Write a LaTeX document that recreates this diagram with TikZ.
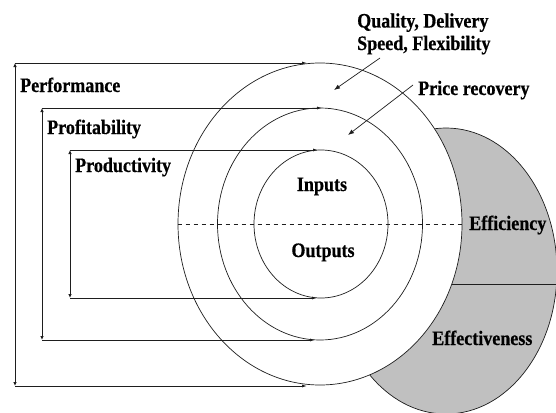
\documentclass[tikz,border=0pt]{standalone}
\usepackage{fontspec}
\setmainfont{Liberation Serif}[FakeStretch=0.88, BoldFeatures={FakeBold=0.6}]
\usetikzlibrary{arrows.meta,shapes.geometric}
\definecolor{fillgray}{RGB}{192,192,192}
\definecolor{linec}{RGB}{30,30,30}
\begin{document}
\begin{tikzpicture}[x=1pt,y=-1pt,
  lbl/.style={font=\fontsize{20.5}{22.5}\selectfont\bfseries, inner sep=0pt, text=black},
  ring/.style={ellipse, draw=linec, line width=0.7pt, inner sep=0pt},
  brk/.style={draw=linec, line width=0.8pt},
  tipr/.style={-{Latex[length=5pt,width=3pt]}},
  tipv/.style={{Latex[length=4pt,width=3.5pt]}-{Latex[length=4pt,width=3.5pt]}},
  ptr/.style={draw=linec, line width=0.7pt, -{Latex[length=6pt,width=4.5pt]}}
]
\useasboundingbox (0,0) rectangle (556,412);
% gray region (Efficiency / Effectiveness)
\begin{scope}
  \clip (0,0) rectangle (556,412);
  \node[ring, fill=fillgray, minimum width=222pt, minimum height=286pt] (gray) at (446,271) {};
\end{scope}
\coordinate (splitL) at (420,284);
\coordinate (splitR) at (556,284);
\draw[brk] (splitL) -- (splitR);
% rings
\node[ring, fill=white, minimum width=284pt, minimum height=322pt] (outer) at (320,224) {};
\node[ring, minimum width=205pt, minimum height=232pt] (middle) at (320,224) {};
\node[ring, minimum width=134pt, minimum height=148pt] (inner) at (321,224) {};
\draw[linec, line width=0.7pt, dash pattern=on 4pt off 4pt] (outer.west) -- (outer.east);
% brackets
\coordinate (pfTL) at (15,63);  \coordinate (pfTR) at (307,63);
\coordinate (pfBL) at (15,386); \coordinate (pfBR) at (307,386);
\coordinate (prTL) at (42,108);  \coordinate (prTR) at (322,108);
\coordinate (prBL) at (42,340);  \coordinate (prBR) at (315,340);
\coordinate (pdTL) at (70,150);  \coordinate (pdTR) at (318,150);
\coordinate (pdBL) at (70,298);  \coordinate (pdBR) at (317,298);
\draw[brk, tipv] (pfTL) -- (pfBL);
\draw[brk, tipr] (pfTL) -- (pfTR);
\draw[brk, tipr] (pfBL) -- (pfBR);
\draw[brk, tipv] (prTL) -- (prBL);
\draw[brk, tipr] (prTL) -- (prTR);
\draw[brk, tipr] (prBL) -- (prBR);
\draw[brk, tipv] (pdTL) -- (pdBL);
\draw[brk, tipr] (pdTL) -- (pdTR);
\draw[brk, tipr] (pdBL) -- (pdBR);
% labels
\node[lbl, anchor=base west] (perf) at (20,92) {Performance};
\node[lbl, anchor=base west] (prof) at (47,134) {Profitability};
\node[lbl, anchor=base west] (prod) at (75,172) {Productivity};
\node[lbl, anchor=base] (inp) at (322,191) {Inputs};
\node[lbl, anchor=base] (outp) at (323,257) {Outputs};
\node[lbl, anchor=base west] (effi) at (469,230) {Efficiency};
\node[lbl, anchor=base west] (effe) at (432,345) {Effectiveness};
\node[lbl, anchor=base west, align=left] (qual) at (357,50) {Quality, Delivery\\Speed, Flexibility};
\node[lbl, anchor=base west] (price) at (418,95) {Price recovery};
% pointers
\coordinate (qs) at (380,58);  \coordinate (qe) at (334,90);
\coordinate (ps) at (413,85);  \coordinate (pe) at (348,135);
\draw[ptr] (qs) -- (qe);
\draw[ptr] (ps) -- (pe);
\end{tikzpicture}
\end{document}
